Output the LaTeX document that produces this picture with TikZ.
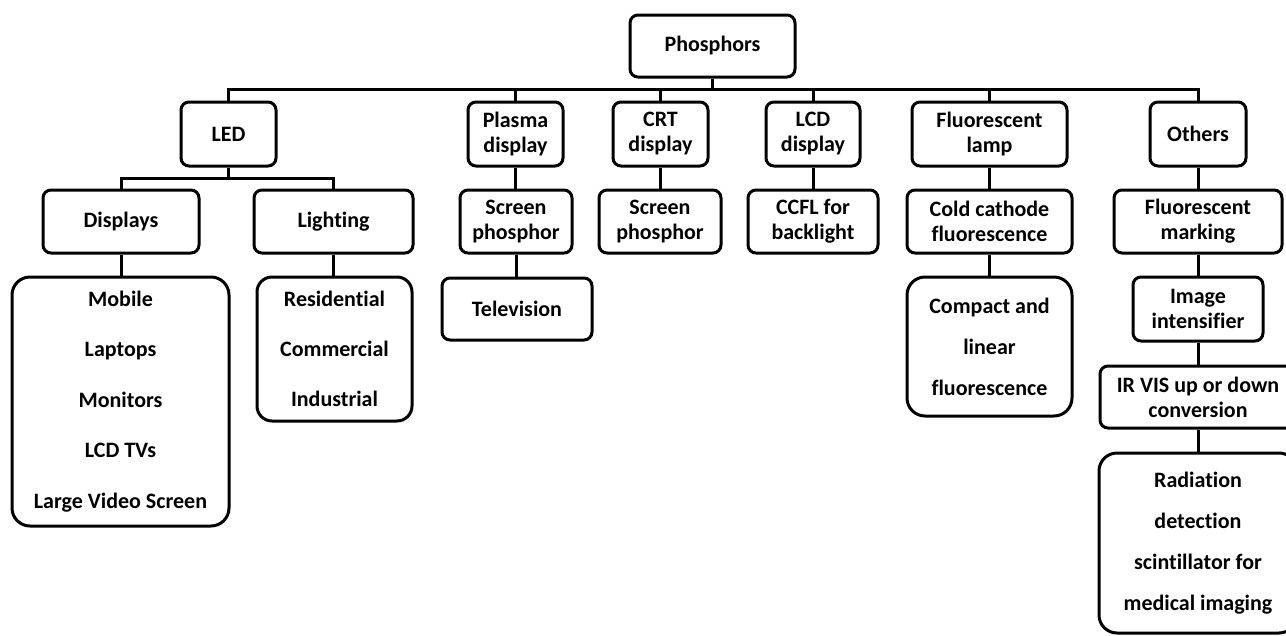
\documentclass[tikz,border=0pt]{standalone}
\usepackage{fontspec}
\setmainfont[Ligatures=NoCommon]{Carlito}
\begin{document}
\begin{tikzpicture}[x=1pt,y=-1pt,
  box/.style={draw=black, line width=3pt, rounded corners=8pt, fill=white, align=center, inner sep=0pt,
    font=\bfseries\fontsize{22}{25}\selectfont},
  listbox/.style={box, rounded corners=18pt},
  link/.style={draw=black, line width=3pt}]
\useasboundingbox (0,0) rectangle (1286,635);
\fill[white] (0,0) rectangle (1286,635);
% level 0
\node[box, minimum width=165pt, minimum height=62pt] (phos) at (712.5,46) {Phosphors};
% level 1
\node[box, minimum width=95pt, minimum height=64pt] (led) at (228.5,134) {LED};
\node[box, minimum width=95pt, minimum height=64pt] (plasma) at (515.5,134) {Plasma\\display};
\node[box, minimum width=95pt, minimum height=64pt] (crt) at (660.5,134) {CRT\\display};
\node[box, minimum width=94pt, minimum height=64pt] (lcd) at (813,134) {LCD\\display};
\node[box, minimum width=155pt, minimum height=64pt] (fluo) at (989.5,134) {Fluorescent\\lamp};
\node[box, minimum width=96pt, minimum height=64pt] (others) at (1198,134) {Others};
% level 2
\node[box, minimum width=156pt, minimum height=63pt] (disp) at (121,221.5) {Displays};
\node[box, minimum width=159pt, minimum height=63pt] (light) at (333.5,221.5) {Lighting};
\node[box, minimum width=112pt, minimum height=63pt] (scr1) at (516,221.5) {Screen\\phosphor};
\node[box, minimum width=122pt, minimum height=63pt] (scr2) at (660,221.5) {Screen\\phosphor};
\node[box, minimum width=130pt, minimum height=63pt] (ccfl) at (813,221.5) {CCFL for\\backlight};
\node[box, minimum width=165pt, minimum height=63pt] (cold) at (989.5,221.5) {Cold cathode\\fluorescence};
\node[box, minimum width=168pt, minimum height=63pt] (fmark) at (1198,221.5) {Fluorescent\\marking};
% level 3
\node[listbox, minimum width=217pt, minimum height=249pt, font=\bfseries\fontsize{22}{50.5}\selectfont] (mob) at (120.5,401.5)
  {Mobile\\Laptops\\Monitors\\LCD TVs\\Large Video Screen};
\node[listbox, minimum width=155pt, minimum height=144pt, rounded corners=15pt, font=\bfseries\fontsize{22}{50}\selectfont] (res) at (334.5,349)
  {Residential\\Commercial\\Industrial};
\node[box, minimum width=150pt, minimum height=62pt] (tv) at (517,309) {Television};
\node[listbox, minimum width=165pt, minimum height=139pt, font=\bfseries\fontsize{22}{41}\selectfont] (comp) at (989.5,346.5)
  {Compact and\\linear\\fluorescence};
\node[box, minimum width=130pt, minimum height=64pt] (img) at (1198,309) {Image\\intensifier};
\node[box, minimum width=196pt, minimum height=62pt] (ir) at (1198,397) {IR VIS up or down\\conversion};
\node[listbox, minimum width=198pt, minimum height=180pt, font=\bfseries\fontsize{22}{41}\selectfont] (rad) at (1198,543)
  {Radiation\\detection\\scintillator for\\medical imaging};
% connectors
\coordinate (bus) at (0,89);
\coordinate (ledbus) at (0,178);
\draw[link] (led.north) |- (bus -| others.north) -- (others.north);
\draw[link] (phos.south) -- (phos.south |- bus);
\foreach \n in {plasma,crt,lcd,fluo} \draw[link] (\n.north) -- (\n.north |- bus);
\draw[link] (disp.north) |- (ledbus -| light.north) -- (light.north);
\draw[link] (led.south) -- (led.south |- ledbus);
\draw[link] (disp.south) -- (disp.south |- mob.north);
\draw[link] (light.south) -- (light.south |- res.north);
\draw[link] (plasma.south) -- (plasma.south |- scr1.north);
\draw[link] (scr1.south) -- (scr1.south |- tv.north);
\draw[link] (crt.south) -- (crt.south |- scr2.north);
\draw[link] (lcd.south) -- (ccfl.north);
\draw[link] (fluo.south) -- (fluo.south |- cold.north);
\draw[link] (cold.south) -- (cold.south |- comp.north);
\draw[link] (others.south) -- (fmark.north);
\draw[link] (fmark.south) -- (img.north);
\draw[link] (img.south) -- (ir.north);
\draw[link] (ir.south) -- (rad.north);
\end{tikzpicture}
\end{document}
